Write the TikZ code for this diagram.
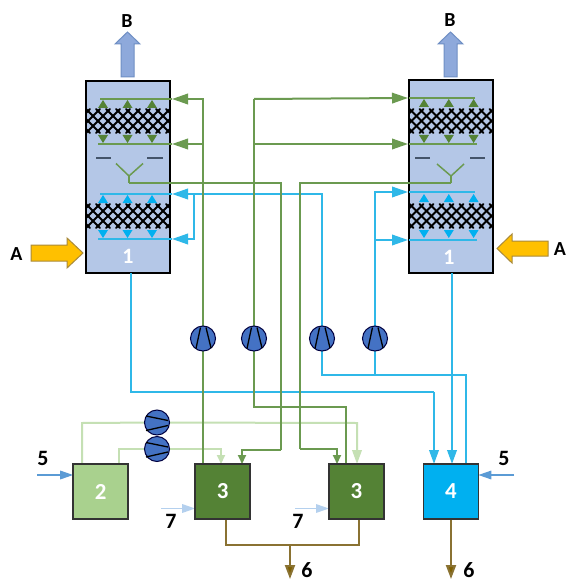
\documentclass[tikz,border=0pt]{standalone}
\usepackage{fontspec}
\setmainfont{Carlito}
\usetikzlibrary{arrows.meta,calc}
\pgfdeclarelayer{front}
\pgfsetlayers{main,front}
\definecolor{towerfill}{HTML}{B4C7E7}
\definecolor{pipegreen}{HTML}{6B9A50}
\definecolor{darkgreen}{HTML}{548235}
\definecolor{lightpipe}{HTML}{C5E0B4}
\definecolor{boxtwo}{HTML}{A9D18E}
\definecolor{pipeblue}{HTML}{2FB8E8}
\definecolor{boxfour}{HTML}{00B0F0}
\definecolor{pipebrown}{HTML}{8A7232}
\definecolor{headbrown}{HTML}{7F6000}
\definecolor{orangefill}{HTML}{FFC000}
\definecolor{orangeline}{HTML}{A98A3A}
\definecolor{outblue}{HTML}{8EA9DB}
\definecolor{outline}{HTML}{6F8FC4}
\definecolor{pumpblue}{HTML}{4472C4}
\definecolor{feedblue}{HTML}{5B9BD5}
\definecolor{feedlight}{HTML}{B4D0EE}
\definecolor{dashc}{HTML}{44546A}
\tikzset{
  towerbox/.style={draw=black,line width=2bp,fill=towerfill,minimum width=84bp,minimum height=192bp,inner sep=0,outer sep=0},
  unitbox/.style={draw=black!80,line width=1.6bp,minimum width=55bp,minimum height=55bp,inner sep=0,outer sep=0,text=white,font=\bfseries\fontsize{23}{23}\selectfont},
  numeral/.style={text=white,font=\bfseries\fontsize{22}{22}\selectfont,inner sep=0},
  lettertag/.style={text=black,font=\bfseries\fontsize{20}{20}\selectfont,inner sep=0},
  digittag/.style={text=black,font=\bfseries\fontsize{22}{22}\selectfont,inner sep=0},
  gpipe/.style={draw=pipegreen,line width=2bp},
  bpipe/.style={draw=pipeblue,line width=2bp},
  lpipe/.style={draw=lightpipe,line width=2bp},
  npipe/.style={draw=pipebrown,line width=2bp},
  ginner/.style={draw=pipegreen,line width=1.5bp},
  binner/.style={draw=pipeblue,line width=1.5bp},
  bighead/.style={-{Triangle[length=16bp,width=10.5bp]}},
  smallhead/.style={-{Triangle[length=9bp,width=8bp]}},
  midhead/.style={-{Triangle[length=14bp,width=9.5bp]}},
  brownhead/.style={-{Triangle[length=14bp,width=10bp,fill=headbrown]}},
  pumpnode/.style={circle,draw=black!75!blue,line width=1bp,fill=pumpblue,minimum size=25bp,inner sep=0,outer sep=0},
  bladeline/.style={draw=black,line width=1.3bp},
  feedarrow/.style={draw=#1,line width=1.6bp,-{Triangle[length=13bp,width=8.5bp]}},
  meshline/.style={draw=black,line width=2bp,line cap=round},
  dashmark/.style={draw=dashc,line width=1.5bp},
  bigarrow/.style={draw=#1,line width=1bp,line join=miter},
}
\newcommand{\packing}[3]{% left x, top y, bottom y
  \begin{scope}
    \clip (#1,#2-2) rectangle (#1+83,#3+2);
    \foreach \k in {-4,...,11}{
      \draw[meshline] (#1+\k*10,#2) -- (#1+\k*10+24,#3);
      \draw[meshline] (#1+\k*10+24,#2) -- (#1+\k*10,#3);
    }
  \end{scope}}
\newcommand{\upmarks}[4]{% x0, step, y base, colour
  \foreach \i in {0,1,2}{\fill[#4] (#1+\i*#2-5,#3) -- (#1+\i*#2+5,#3) -- (#1+\i*#2,#3-8) -- cycle;}}
\newcommand{\downmarks}[4]{%
  \foreach \i in {0,1,2}{\fill[#4] (#1+\i*#2-5,#3) -- (#1+\i*#2+5,#3) -- (#1+\i*#2,#3+8) -- cycle;}}
\newcommand{\pumpblades}[1]{%
  \draw[bladeline] ($(#1)+(-7,10)$) -- ($(#1)+(-2.5,-11)$);
  \draw[bladeline] ($(#1)+(8,9.5)$) -- ($(#1)+(3,-11)$);}
\newcommand{\fanblades}[1]{%
  \draw[bladeline] ($(#1)+(-11,-6.5)$) -- ($(#1)+(11,-2)$);
  \draw[bladeline] ($(#1)+(-11,8)$) -- ($(#1)+(11,3)$);}
\begin{document}
\begin{tikzpicture}[x=1bp,y=-1bp]
\useasboundingbox (0,0) rectangle (567,582);
\fill[white] (0,0) rectangle (567,582);
% towers
\node[towerbox] (towerL) at (128,177) {};
\node[towerbox] (towerR) at (451,176.5) {};
\packing{86}{109}{133}
\packing{86}{204}{228}
\packing{409.5}{109}{133}
\packing{409.5}{204}{228}
\draw[line width=2bp] (towerL.north west) rectangle (towerL.south east);
\draw[line width=2bp] (towerR.north west) rectangle (towerR.south east);
\node[numeral] (oneL) at (128,256) {1};
\node[numeral] (oneR) at (449,257) {1};
% coordinates
\coordinate (LgT) at (172,99);   \coordinate (LgB) at (172,144);
\coordinate (LbT) at (172,194);  \coordinate (LbB) at (172,239);
\coordinate (RgT) at (408,98);   \coordinate (RgB) at (408,144);
\coordinate (RbT) at (408,192);  \coordinate (RbB) at (408,240);
\coordinate (LstemB) at (129,183); \coordinate (RstemB) at (451,183);
% tower internals, left
\draw[ginner] (100,99) -- (LgT);
\draw[ginner] (98,144) -- (LgB);
\draw[binner] (100,194) -- (LbT);
\draw[binner] (98,239) -- (LbB);
\upmarks{103}{24.5}{108}{darkgreen}
\downmarks{103}{24.5}{135}{darkgreen}
\upmarks{103}{24.5}{203}{boxfour}
\downmarks{103}{24.5}{230}{boxfour}
\draw[dashmark] (96,158) -- (111,158);
\draw[dashmark] (147,158) -- (163,158);
\draw[ginner] (116,163.5) -- (129,176) -- (143,163.5);
\draw[ginner] (129,176) -- (LstemB);
% tower internals, right
\draw[ginner] (409,98) -- (475,98);
\draw[ginner] (409,144) -- (477,144);
\draw[binner] (409,192) -- (475,192);
\draw[binner] (409,240) -- (477,240);
\upmarks{424}{24.8}{107}{darkgreen}
\downmarks{424}{24.8}{135}{darkgreen}
\upmarks{424}{24.8}{202}{boxfour}
\downmarks{424}{24.8}{230}{boxfour}
\draw[dashmark] (415,158) -- (430,158);
\draw[dashmark] (470,158) -- (485,158);
\draw[ginner] (437,164) -- (451,176) -- (464,164);
\draw[ginner] (451,176) -- (RstemB);
% process boxes and pumps on the front layer
\begin{pgfonlayer}{front}
\node[unitbox,fill=boxtwo] (two) at (100.7,491.5) {2};
\node[unitbox,fill=darkgreen] (threeL) at (222.7,491.5) {3};
\node[unitbox,fill=darkgreen] (threeR) at (356.5,491.5) {3};
\node[unitbox,fill=boxfour] (four) at (450.8,491.5) {4};
\node[pumpnode] (pA) at (203,338.5) {};
\node[pumpnode] (pB) at (254,338.5) {};
\node[pumpnode] (pC) at (322,338.5) {};
\node[pumpnode] (pD) at (375,338.5) {};
\node[pumpnode] (fanA) at (157,422.5) {};
\node[pumpnode] (fanB) at (157,449) {};
\pumpblades{pA}\pumpblades{pB}\pumpblades{pC}\pumpblades{pD}
\fanblades{fanA}\fanblades{fanB}
\end{pgfonlayer}
% junction coordinates
\coordinate (gA1) at (203,99); \coordinate (gA2) at (203,144);
\coordinate (gB1) at (254,99); \coordinate (gB2) at (254,144);
\coordinate (gBlow) at (254,407); \coordinate (gBend) at (346,407);
\coordinate (gC) at (281,183); \coordinate (gC2) at (281,450); \coordinate (gC3) at (242,450);
\coordinate (gD) at (300,183); \coordinate (gD2) at (300,449); \coordinate (gD3) at (337,449);
\coordinate (bA) at (194,194); \coordinate (bA2) at (194,239);
\coordinate (bC) at (322,194); \coordinate (bCl) at (322,375);
\coordinate (bDl) at (375,375); \coordinate (bD1) at (375,192); \coordinate (bD2) at (375,240);
\coordinate (bE) at (466,375);
\coordinate (bLa) at (131,392); \coordinate (bLb) at (434,392);
\coordinate (bR) at (452,300);
\coordinate (lA) at (82,423); \coordinate (lAe) at (357,423);
\coordinate (lB) at (119,449); \coordinate (lBe) at (221,449);
\coordinate (nL) at (226,545); \coordinate (nR) at (359,545); \coordinate (nM) at (290,545);
\coordinate (nEndL) at (290,579); \coordinate (nEndR) at (451,579);
% light green pipes
\draw[lpipe] (lA |- two.north) -- (lA) -- (fanA);
\draw[lpipe,midhead] (fanA) -- (lAe) -- (lAe |- threeR.north);
\draw[lpipe] (lB |- two.north) -- (lB) -- (fanB);
\draw[lpipe,smallhead] (fanB) -- (lBe) -- (lBe |- threeL.north);
% blue pipes
\draw[bpipe] (bLa |- towerL.south) -- (bLa) -- (bLb);
\draw[bpipe,midhead] (bLb) -- (bLb |- four.north);
\draw[bpipe] (bE |- four.north) -- (bE) -- (bCl) -- (pC);
\draw[bpipe,bighead] (pC) -- (bC) -- (LbT);
\draw[bpipe,bighead] (bA) -- (bA2) -- (LbB);
\draw[bpipe] (bDl) -- (pD);
\draw[bpipe,bighead] (pD) -- (bD1) -- (RbT);
\draw[bpipe,bighead] (bD2) -- (RbB);
\draw[bpipe,midhead] (bR |- towerR.south) -- (bR |- four.north);
% green pipes
\draw[gpipe,bighead] (gA1 |- threeL.north) -- (pA) -- (gA1) -- (LgT);
\draw[gpipe,bighead] (gA2) -- (LgB);
\draw[gpipe] (pB) -- (gB1);
\draw[gpipe,bighead] (gB1) -- (RgT);
\draw[gpipe,bighead] (gB2) -- (RgB);
\draw[gpipe] (pB) -- (gBlow) -- (gBend) -- (gBend |- threeR.north);
\draw[gpipe] (LstemB) -- (gC) -- (gC2);
\draw[gpipe,smallhead] (gC2) -- (gC3) -- (gC3 |- threeL.north);
\draw[gpipe] (RstemB) -- (gD) -- (gD2);
\draw[gpipe,smallhead] (gD2) -- (gD3) -- (gD3 |- threeR.north);
% brown pipes
\draw[npipe] (nL |- threeL.south) -- (nL) -- (nR) -- (nR |- threeR.south);
\draw[npipe,brownhead] (nM) -- (nEndL);
\draw[npipe,brownhead] (nEndR |- four.south) -- (nEndR);
% feeds
\coordinate (f5Ls) at (37,475); \coordinate (f5Rs) at (514,475);
\coordinate (f7Ls) at (161,508.5); \coordinate (f7Rs) at (295,508.5);
\draw[feedarrow=feedblue] (f5Ls) -- (f5Ls -| two.west);
\draw[feedarrow=feedblue] (f5Rs) -- (f5Rs -| four.east);
\draw[feedarrow=feedlight] (f7Ls) -- (f7Ls -| threeL.west);
\draw[feedarrow=feedlight] (f7Rs) -- (f7Rs -| threeR.west);
% big arrows
\draw[bigarrow=orangeline,fill=orangefill] (31,245) -- (67,245) -- (67,238) -- (83,253) -- (67,268) -- (67,261) -- (31,261) -- cycle;
\draw[bigarrow=orangeline,fill=orangefill] (548,241) -- (512,241) -- (512,234) -- (497,248.5) -- (512,263) -- (512,256) -- (548,256) -- cycle;
\draw[bigarrow=outline,fill=outblue] (121,77) -- (121,44) -- (115,44) -- (127.5,32) -- (140,44) -- (134,44) -- (134,77) -- cycle;
\draw[bigarrow=outline,fill=outblue] (444,77) -- (444,44) -- (438,44) -- (450.5,32) -- (463,44) -- (457,44) -- (457,77) -- cycle;
% labels
\node[lettertag] (tagAL) at (16.5,254) {A};
\node[lettertag] (tagAR) at (560,249) {A};
\node[lettertag] (tagBL) at (127,21) {B};
\node[lettertag] (tagBR) at (450,20) {B};
\node[digittag] (tag5L) at (43,458) {5};
\node[digittag] (tag5R) at (504,458) {5};
\node[digittag] (tag7L) at (171,521) {7};
\node[digittag] (tag7R) at (298,521) {7};
\node[digittag] (tag6L) at (307,570) {6};
\node[digittag] (tag6R) at (469,570) {6};
\end{tikzpicture}
\end{document}
